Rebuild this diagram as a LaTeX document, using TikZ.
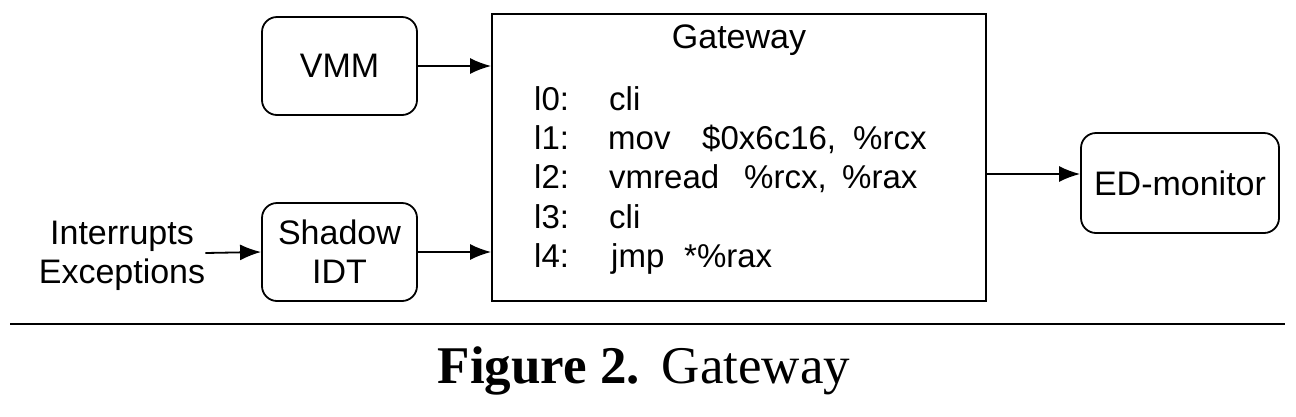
\documentclass[tikz,border=0pt]{standalone}
\usepackage{fontspec}
\setmainfont{Liberation Sans}
\newfontfamily\capfont{Liberation Serif}
\usetikzlibrary{arrows.meta}
\tikzset{
  box/.style={draw, line width=1.8pt, rounded corners=15pt, inner sep=0pt, align=center,
    font=\fontsize{34}{39}\selectfont},
  gbox/.style={draw, line width=1.8pt, inner sep=0pt},
  arr/.style={line width=1.8pt, -{Latex[length=21pt,width=16pt]}},
  lbl/.style={inner sep=0pt, anchor=base west, font=\fontsize{33}{39}\selectfont},
  txt/.style={inner sep=0pt, font=\fontsize{34}{39}\selectfont},
}
\begin{document}
\begin{tikzpicture}[x=1pt,y=-1pt]
\useasboundingbox (0,0) rectangle (1296,416);
% boxes
\node[box, minimum width=155pt, minimum height=98pt] (vmm) at (339.5,66) {VMM};
\node[box, minimum width=155pt, minimum height=98pt] (sidt) at (339.5,252) {Shadow\\IDT};
\node[gbox, minimum width=494pt, minimum height=287pt] (gw) at (739,157.5) {};
\node[box, minimum width=198pt, minimum height=100pt] (ed) at (1180,183) {ED-monitor};
% texts
\node[txt, align=center] (irq) at (122,256) {Interrupts\\Exceptions};
\node[txt, anchor=base] (gwt) at (739,48) {Gateway};
% code
\node[lbl] (l0) at (534,110) {l0:};
\node[lbl] (c0) at (609,110) {cli};
\node[lbl] (l1) at (534,149) {l1:};
\node[lbl] (c1a) at (608,149) {mov};
\node[lbl] (c1b) at (702,149) {\$0x6c16,};
\node[lbl] (c1c) at (853,149) {\%rcx};
\node[lbl] (l2) at (534,188) {l2:};
\node[lbl] (c2a) at (609,188) {vmread};
\node[lbl] (c2b) at (744,188) {\%rcx,};
\node[lbl] (c2c) at (842,188) {\%rax};
\node[lbl] (l3) at (534,228) {l3:};
\node[lbl] (c3) at (609,228) {cli};
\node[lbl] (l4) at (534,267) {l4:};
\node[lbl] (c4a) at (611,267) {jmp};
\node[lbl] (c4b) at (684,267) {*\%rax};
% arrows
\draw[arr] (vmm.east) -- (gw.west |- vmm.east);
\draw[arr] (sidt.east) -- (gw.west |- sidt.east);
\draw[arr] (irq.east |- 0,253) -- (sidt.west |- 0,252);
\draw[arr] (gw.east |- 0,174) -- (ed.west |- 0,174);
% separator and caption
\coordinate (sl) at (10,324);
\coordinate (sr) at (1285,324);
\draw[line width=2.4pt] (sl) -- (sr);
\node[inner sep=0pt, anchor=base, font=\capfont\fontsize{53}{60}\selectfont] (cap) at (644,383)
  {\textbf{Figure 2.}\hspace{22pt}Gateway};
\end{tikzpicture}
\end{document}
